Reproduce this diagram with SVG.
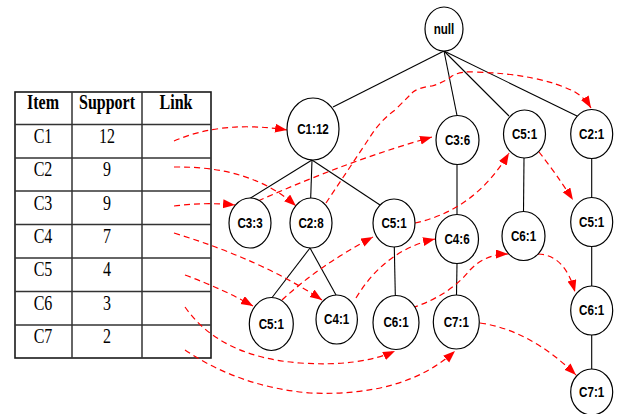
<svg xmlns="http://www.w3.org/2000/svg" width="617" height="414" viewBox="0 0 617 414">
<defs>
<marker id="ah" markerUnits="userSpaceOnUse" markerWidth="14" markerHeight="11" refX="12" refY="4.5" orient="auto">
<path d="M0,0 L12,4.5 L0,9 z" fill="#ff0000"/>
</marker>
<style>
.tb{fill:none;stroke:#1a1a1a;stroke-width:1.6}
.tl{stroke:#333;stroke-width:1.5}
.th{font-family:"Liberation Serif","Times New Roman",serif;font-weight:bold;font-size:16px;text-anchor:middle;fill:#000}
.td{font-family:"Liberation Serif","Times New Roman",serif;font-size:16px;text-anchor:middle;fill:#000}
.nd ellipse{fill:#fff;stroke:#000;stroke-width:1.2}
.nd text{font-family:"Liberation Sans",Arial,sans-serif;font-weight:bold;font-size:12px;text-anchor:middle;dominant-baseline:central;fill:#000}
.e{stroke:#000;stroke-width:1.1;fill:none}
.r{stroke:#ff0000;stroke-width:1.2;fill:none;stroke-dasharray:6,4}
</style>
</defs>
<rect width="617" height="414" fill="#fff"/>
<g id="table">
<rect class="tb" x="15" y="92" width="196" height="266"/>
<line class="tl" x1="72" y1="92" x2="72" y2="358"/>
<line class="tl" x1="142" y1="92" x2="142" y2="358"/>
<line class="tl" x1="15" y1="124.5" x2="211" y2="124.5"/>
<line class="tl" x1="15" y1="158" x2="211" y2="158"/>
<line class="tl" x1="15" y1="191" x2="211" y2="191"/>
<line class="tl" x1="15" y1="224.5" x2="211" y2="224.5"/>
<line class="tl" x1="15" y1="258" x2="211" y2="258"/>
<line class="tl" x1="15" y1="291.5" x2="211" y2="291.5"/>
<line class="tl" x1="15" y1="325" x2="211" y2="325"/>
<text class="th" transform="translate(43,109) scale(1,1.25)">Item</text>
<text class="th" transform="translate(107,109) scale(1,1.25)">Support</text>
<text class="th" transform="translate(176,109) scale(1,1.25)">Link</text>
<text class="td" transform="translate(43,143) scale(1,1.28)">C1</text>
<text class="td" transform="translate(107,143) scale(1,1.28)">12</text>
<text class="td" transform="translate(43,176) scale(1,1.28)">C2</text>
<text class="td" transform="translate(107,176) scale(1,1.28)">9</text>
<text class="td" transform="translate(43,210) scale(1,1.28)">C3</text>
<text class="td" transform="translate(107,210) scale(1,1.28)">9</text>
<text class="td" transform="translate(43,243) scale(1,1.28)">C4</text>
<text class="td" transform="translate(107,243) scale(1,1.28)">7</text>
<text class="td" transform="translate(43,276) scale(1,1.28)">C5</text>
<text class="td" transform="translate(107,276) scale(1,1.28)">4</text>
<text class="td" transform="translate(43,310) scale(1,1.28)">C6</text>
<text class="td" transform="translate(107,310) scale(1,1.28)">3</text>
<text class="td" transform="translate(43,343) scale(1,1.28)">C7</text>
<text class="td" transform="translate(107,343) scale(1,1.28)">2</text>
</g>
<g id="connectors">
<g id="tree-edges">
<line class="e" x1="444" y1="51" x2="333" y2="107"/>
<line class="e" x1="444" y1="51" x2="457" y2="115.5"/>
<line class="e" x1="444" y1="51" x2="509" y2="116"/>
<line class="e" x1="444" y1="51" x2="577" y2="116"/>
<line class="e" x1="312" y1="160" x2="249" y2="199"/>
<line class="e" x1="312" y1="160" x2="310.7" y2="198"/>
<line class="e" x1="312" y1="160" x2="380" y2="205"/>
<line class="e" x1="310" y1="248" x2="271.7" y2="298"/>
<line class="e" x1="310" y1="248" x2="336" y2="295"/>
<line class="e" x1="394.3" y1="247" x2="395.3" y2="295.5"/>
<line class="e" x1="457" y1="164.5" x2="457" y2="214.5"/>
<line class="e" x1="457" y1="263.5" x2="456.5" y2="295"/>
<line class="e" x1="524" y1="158" x2="523.5" y2="211.5"/>
<line class="e" x1="591.7" y1="158.5" x2="591.7" y2="197.5"/>
<line class="e" x1="591.7" y1="246.5" x2="591.7" y2="286"/>
<line class="e" x1="591.7" y1="335" x2="591.7" y2="369"/>
</g>
<g id="node-links">
<path class="r" d="M174,141 Q222,120 287,130" marker-end="url(#ah)"/>
<path class="r" d="M174,167 Q252,166 296,206" marker-end="url(#ah)"/>
<path class="r" d="M174,206 Q205,202 235,205" marker-end="url(#ah)"/>
<path class="r" d="M174,233 Q262,260 322,300" marker-end="url(#ah)"/>
<path class="r" d="M185,275 Q225,290 253,306" marker-end="url(#ah)"/>
<path class="r" d="M185,307 Q220,357 300,363 Q360,367 395,351" marker-end="url(#ah)"/>
<path class="r" d="M185,350 Q240,387 310,393 Q405,397 455,351" marker-end="url(#ah)"/>
<path class="r" d="M326,203 L370,137 Q380,121 395,110 Q405,100 413,92 Q420,87 432,86 Q445,82 452,76 Q460,71 475,72 Q540,74 575,92 Q585,98 591,108" marker-end="url(#ah)"/>
<path class="r" d="M258,201 Q350,160 432,137" marker-end="url(#ah)"/>
<path class="r" d="M415,223 Q475,210 509,153" marker-end="url(#ah)"/>
<path class="r" d="M539,152 Q555,172 573,200" marker-end="url(#ah)"/>
<path class="r" d="M282,300 Q320,265 373,237" marker-end="url(#ah)"/>
<path class="r" d="M356,298 Q385,250 435,239" marker-end="url(#ah)"/>
<path class="r" d="M412,308 Q450,295 470,270 Q485,254 508,254" marker-end="url(#ah)"/>
<path class="r" d="M538,254 Q565,255 575,292" marker-end="url(#ah)"/>
<path class="r" d="M480,323 Q530,330 576,375" marker-end="url(#ah)"/>
</g>
</g>
<g id="n-null" class="nd"><ellipse cx="444" cy="29" rx="19" ry="22"/><text transform="translate(444,29) scale(0.97,1.17)">null</text></g>
<g id="n-c1-12" class="nd"><ellipse cx="313" cy="129" rx="26" ry="31"/><text transform="translate(313,129) scale(0.97,1.17)">C1:12</text></g>
<g id="n-c3-3" class="nd"><ellipse cx="250" cy="223" rx="21" ry="25"/><text transform="translate(250,223) scale(0.97,1.17)">C3:3</text></g>
<g id="n-c2-8" class="nd"><ellipse cx="311" cy="223" rx="21" ry="25"/><text transform="translate(311,223) scale(0.97,1.17)">C2:8</text></g>
<g id="n-c5-1-a" class="nd"><ellipse cx="394" cy="223" rx="21" ry="24"/><text transform="translate(394,223) scale(0.97,1.17)">C5:1</text></g>
<g id="n-c3-6" class="nd"><ellipse cx="457.5" cy="140" rx="21.5" ry="24.5"/><text transform="translate(457.5,140) scale(0.97,1.17)">C3:6</text></g>
<g id="n-c5-1-b" class="nd"><ellipse cx="524.5" cy="134" rx="21" ry="24"/><text transform="translate(524.5,134) scale(0.97,1.17)">C5:1</text></g>
<g id="n-c2-1" class="nd"><ellipse cx="591.7" cy="134" rx="21" ry="24.5"/><text transform="translate(591.7,134) scale(0.97,1.17)">C2:1</text></g>
<g id="n-c4-6" class="nd"><ellipse cx="457" cy="239" rx="21.5" ry="24.5"/><text transform="translate(457,239) scale(0.97,1.17)">C4:6</text></g>
<g id="n-c6-1-a" class="nd"><ellipse cx="523.5" cy="236" rx="21.5" ry="24.5"/><text transform="translate(523.5,236) scale(0.97,1.17)">C6:1</text></g>
<g id="n-c5-1-c" class="nd"><ellipse cx="591.7" cy="222" rx="21" ry="24.5"/><text transform="translate(591.7,222) scale(0.97,1.17)">C5:1</text></g>
<g id="n-c6-1-c" class="nd"><ellipse cx="591.7" cy="310.5" rx="21" ry="24.5"/><text transform="translate(591.7,310.5) scale(0.97,1.17)">C6:1</text></g>
<g id="n-c7-1-c" class="nd"><ellipse cx="591.7" cy="392" rx="21" ry="23"/><text transform="translate(591.7,392) scale(0.97,1.17)">C7:1</text></g>
<g id="n-c7-1-b" class="nd"><ellipse cx="456.3" cy="322" rx="23" ry="27"/><text transform="translate(456.3,322) scale(0.97,1.17)">C7:1</text></g>
<g id="n-c5-1-d" class="nd"><ellipse cx="271.3" cy="324" rx="22" ry="26.5"/><text transform="translate(271.3,324) scale(0.97,1.17)">C5:1</text></g>
<g id="n-c4-1" class="nd"><ellipse cx="336.7" cy="319.5" rx="20.7" ry="24.5"/><text transform="translate(336.7,319.5) scale(0.97,1.17)">C4:1</text></g>
<g id="n-c6-1-b" class="nd"><ellipse cx="396" cy="322.5" rx="23" ry="27"/><text transform="translate(396,322.5) scale(0.97,1.17)">C6:1</text></g>
</svg>
